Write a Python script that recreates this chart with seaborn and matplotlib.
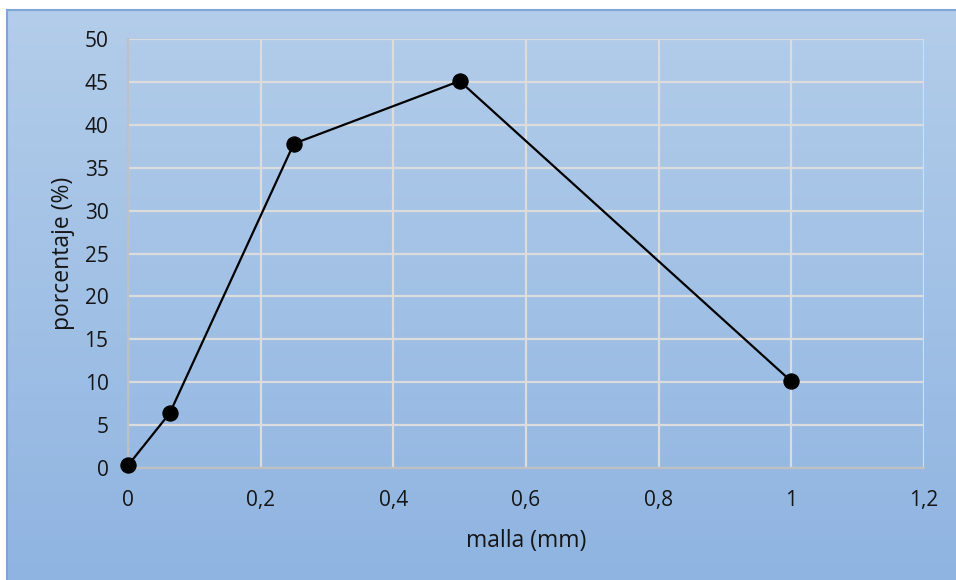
import numpy as np
import pandas as pd
import matplotlib
matplotlib.use("Agg")
import matplotlib.pyplot as plt
import seaborn as sns
from matplotlib.colors import LinearSegmentedColormap

malla = [0, 0.063, 0.25, 0.5, 1.0]
porcentaje = [0.3, 6.4, 37.8, 45.1, 10.1]
xticks = [0, 0.2, 0.4, 0.6, 0.8, 1.0, 1.2]
xticklabels = ["0", "0,2", "0,4", "0,6", "0,8", "1", "1,2"]
yticks = [0, 5, 10, 15, 20, 25, 30, 35, 40, 45, 50]

sns.set_theme(style="white")
plt.rcParams['font.family'] = ['Open Sans', 'DejaVu Sans']

W, H = 956, 580
fig = plt.figure(figsize=(W / 100, H / 100), dpi=100)
fig.patch.set_facecolor("white")

# gradient background box (extends past right and bottom edges)
bg = fig.add_axes([7 / W, -0.01, 1.0, 1.01 - 10 / H])
cmap = LinearSegmentedColormap.from_list("g", ["#b3cdea", "#8fb4e1"])
bg.imshow(np.linspace(0, 1, 256).reshape(-1, 1), aspect="auto", cmap=cmap,
          extent=[0, 1, 0, 1], origin="upper")
bg.set_axis_off()
bg.add_patch(plt.Rectangle((0, 0), 1, 1, transform=bg.transAxes, fill=False,
                           edgecolor="#7fa6d6", lw=1.5, clip_on=False))

ax = fig.add_axes([128 / W, 1 - 468 / H, (924 - 128) / W, (468 - 39) / H])
ax.patch.set_alpha(0)
df = pd.DataFrame({"malla": malla, "porcentaje": porcentaje})
sns.lineplot(data=df, x="malla", y="porcentaje", ax=ax, color="black",
             marker="o", markersize=11, linewidth=1.6, markeredgecolor="black",
             zorder=5)
for ln in ax.lines:
    ln.set_clip_on(False)

ax.set_xlim(0, 1.2)
ax.set_ylim(0, 50)
ax.set_xticks(xticks)
ax.set_xticklabels(xticklabels)
ax.set_yticks(yticks)
ax.grid(True, color="#dcdcdc", linewidth=1.6)
ax.set_axisbelow(True)
for side in ["top", "right"]:
    ax.spines[side].set_visible(False)
for side in ["left", "bottom"]:
    ax.spines[side].set_color("#c0c0c0")
    ax.spines[side].set_linewidth(1.6)
ax.tick_params(axis="both", length=0, labelsize=15, colors="#151515")
ax.tick_params(axis="x", pad=16)
ax.tick_params(axis="y", pad=14)
ax.set_xlabel("malla (mm)", fontsize=16.5, color="#151515", va="center")
ax.set_ylabel("porcentaje (%)", fontsize=16.5, color="#151515", va="center")
ax.xaxis.set_label_coords(0.5, (468 - 541) / 429)
ax.yaxis.set_label_coords((63 - 128) / 796, (468 - 253) / 429)

fig.savefig("out.png", dpi=100)
